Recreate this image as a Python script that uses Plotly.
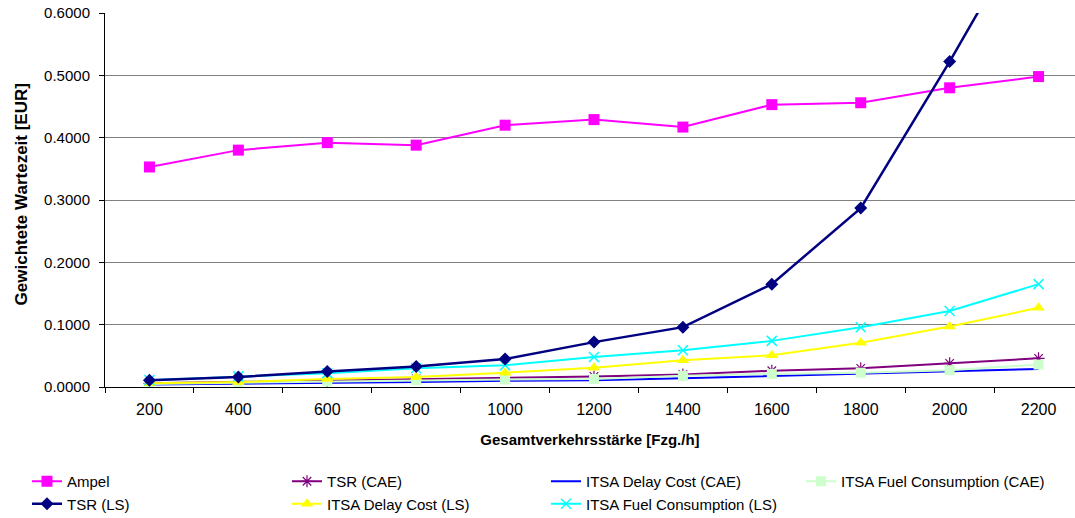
import plotly.graph_objects as go

categories = ["200", "400", "600", "800", "1000", "1200", "1400", "1600", "1800", "2000", "2200"]

ampel = [0.353, 0.380, 0.392, 0.388, 0.420, 0.429, 0.417, 0.453, 0.456, 0.480, 0.498]
tsr_cae = [0.006, 0.008, 0.010, 0.013, 0.015, 0.017, 0.020, 0.026, 0.030, 0.038, 0.046]
itsa_delay_cae = [0.004, 0.005, 0.006, 0.008, 0.010, 0.011, 0.014, 0.018, 0.021, 0.025, 0.029]
itsa_fuel_cae = [0.005, 0.007, 0.009, 0.011, 0.012, 0.013, 0.018, 0.021, 0.023, 0.027, 0.036]
tsr_ls = [0.011, 0.016, 0.025, 0.033, 0.045, 0.072, 0.096, 0.165, 0.287, 0.522, 0.770]
itsa_delay_ls = [0.006, 0.008, 0.013, 0.016, 0.023, 0.031, 0.043, 0.051, 0.071, 0.097, 0.127]
itsa_fuel_ls = [0.011, 0.017, 0.022, 0.030, 0.035, 0.048, 0.059, 0.074, 0.096, 0.122, 0.165]

FONT = "Liberation Sans, Arial, sans-serif"

# (name, values, colour, marker, line width, legend id, rank)
series = [
    ("Ampel", ampel, "#FF00FF", dict(symbol="square", size=11), 2, "legend", 1),
    ("TSR (CAE)", tsr_cae, "#800080", dict(symbol="asterisk-open", size=10, line=dict(width=1.2, color="#800080")), 2, "legend2", 1),
    ("ITSA Delay Cost (CAE)", itsa_delay_cae, "#0000FF", None, 2, "legend3", 1),
    ("ITSA Fuel Consumption (CAE)", itsa_fuel_cae, "#CCFFCC", dict(symbol="square", size=10), 2, "legend4", 1),
    ("ITSA Delay Cost (LS)", itsa_delay_ls, "#FFFF00", dict(symbol="triangle-up", size=11), 2, "legend2", 2),
    ("ITSA Fuel Consumption (LS)", itsa_fuel_ls, "#00FFFF", dict(symbol="x-thin-open", size=10, line=dict(width=1.5, color="#00FFFF")), 2, "legend3", 2),
    ("TSR (LS)", tsr_ls, "#000080", dict(symbol="diamond", size=10), 2.5, "legend", 2),
]

fig = go.Figure()
for name, vals, color, marker, lw, leg, rank in series:
    if marker is None:
        fig.add_trace(go.Scatter(x=categories, y=vals, name=name, mode="lines",
                                 line=dict(color=color, width=lw), legend=leg, legendrank=rank))
    else:
        m = dict(color=color)
        m.update(marker)
        fig.add_trace(go.Scatter(x=categories, y=vals, name=name, mode="lines+markers",
                                 line=dict(color=color, width=lw), marker=m,
                                 legend=leg, legendrank=rank))

W, H = 1075, 518
PLOT_W = 970


def legend_at(px):
    return dict(orientation="v", xref="container", yref="container",
                x=px / W, y=1 - 465 / H, xanchor="left", yanchor="top",
                font=dict(family=FONT, size=15, color="black"),
                bgcolor="rgba(0,0,0,0)", itemwidth=30, traceorder="normal")


fig.update_layout(
    width=W, height=H,
    margin=dict(l=105, r=0, t=13, b=131, autoexpand=False),
    paper_bgcolor="white", plot_bgcolor="white",
    font=dict(family=FONT, size=14, color="black"),
    showlegend=True,
    legend=legend_at(27),
    legend2=legend_at(287),
    legend3=legend_at(546),
    legend4=legend_at(801),
    xaxis=dict(type="category", range=[-0.5, 10.41], tickson="boundaries",
               ticks="outside", ticklen=5, tickcolor="black",
               showline=True, linecolor="black", linewidth=1,
               showgrid=False, zeroline=False, automargin=False,
               ticklabelstandoff=8,
               tickfont=dict(family=FONT, size=16),
               title=dict(text="<b>Gesamtverkehrsstärke [Fzg./h]</b>", standoff=17,
                          font=dict(family=FONT, size=15))),
    yaxis=dict(range=[0, 0.6], dtick=0.1, tickformat=".4f",
               ticks="outside", ticklen=5, tickcolor="black",
               showline=True, linecolor="black", linewidth=1,
               showgrid=True, gridcolor="#808080", gridwidth=1, zeroline=False,
               automargin=False, ticklabelstandoff=6, ticklabeloverflow="allow",
               tickfont=dict(family=FONT, size=15)),
    annotations=[dict(text="<b>Gewichtete Wartezeit [EUR]</b>", textangle=-90,
                      xref="paper", yref="paper", x=-84 / PLOT_W, y=0.515,
                      xanchor="center", yanchor="middle", showarrow=False,
                      font=dict(family=FONT, size=17, color="black"))],
)

fig.write_html("out.html",
               config={"displayModeBar": False},
               post_script="document.body.style.margin='0';document.body.style.overflow='hidden';")
